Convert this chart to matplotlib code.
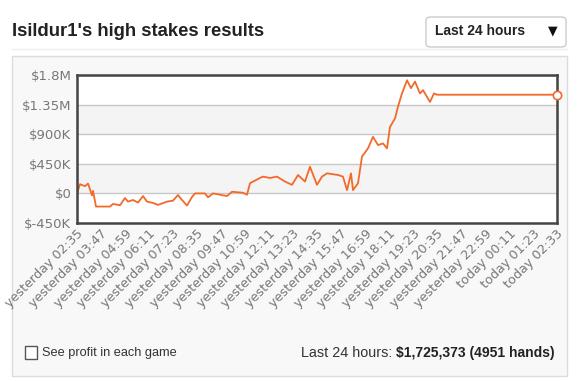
import matplotlib.pyplot as plt
from matplotlib.patches import Rectangle, FancyBboxPatch
from matplotlib.lines import Line2D

# profit curve (hours since yesterday 02:35, profit in $K)
hours = [0, 0.15, 0.4, 0.55, 0.75, 0.8, 0.95, 1.65, 1.8, 2.15, 2.4, 2.55, 2.8, 3.05, 3.3, 3.5, 3.8,
         4.05, 4.5, 4.8, 5.05, 5.25, 5.5, 5.75, 5.9, 6.4, 6.55, 6.8, 7.15, 7.5, 7.75, 8.3, 8.5, 8.65,
         9.15, 9.3, 9.65, 10.0, 10.4, 10.75, 11.05, 11.4, 11.65, 12.0, 12.25, 12.5, 13.05, 13.3,
         13.5, 13.7, 13.8, 14.05, 14.25, 14.55, 14.8, 15.05, 15.3, 15.5, 15.65, 15.9, 16.05, 16.25,
         16.5, 16.7, 16.9, 17.15, 17.3, 17.65, 17.85, 18.0, 24.0]
profit_k = [0, 140, 110, 150, -30, 40, -200, -200, -160, -180, -70, -125, -100, -140, -40, -125, -145,
            -175, -125, -110, -25, -100, -185, -55, 0, 0, -60, 0, -20, -40, 25, 10, -20, 155,
            235, 255, 235, 255, 180, 130, 280, 180, 405, 130, 255, 305, 280, 255,
            50, 305, 50, 155, 560, 685, 860, 735, 760, 685, 1010, 1140, 1320, 1520,
            1720, 1600, 1700, 1520, 1570, 1390, 1520, 1500, 1500]

y_ticks = [-450, 0, 450, 900, 1350, 1800]
y_labels = ['$-450K', '$0', '$450K', '$900K', '$1.35M', '$1.8M']

x_labels = ['yesterday 02:35', 'yesterday 03:47', 'yesterday 04:59', 'yesterday 06:11',
            'yesterday 07:23', 'yesterday 08:35', 'yesterday 09:47', 'yesterday 10:59',
            'yesterday 12:11', 'yesterday 13:23', 'yesterday 14:35', 'yesterday 15:47',
            'yesterday 16:59', 'yesterday 18:11', 'yesterday 19:23', 'yesterday 20:35',
            'yesterday 21:47', 'yesterday 22:59', 'today 00:11', 'today 01:23', 'today 02:33']
x_ticks = [i * 1.2 for i in range(len(x_labels) - 1)] + [23.97]

W, H = 580, 382
fig = plt.figure(figsize=(W / 100, H / 100), dpi=100)
fig.patch.set_facecolor('white')


def fx(px):
    return px / W


def fy(py):
    return 1 - py / H


sans = ['Liberation Sans', 'DejaVu Sans']

# outer panel
fig.patches.append(Rectangle((fx(12), fy(376)), fx(555), (376 - 56) / H, transform=fig.transFigure,
                             facecolor='#f8f8f8', edgecolor='#dcdcdc', linewidth=1, zorder=-2))
fig.lines.append(Line2D([fx(12), fx(567)], [fy(49), fy(49)], transform=fig.transFigure,
                        color='#eeeeee', linewidth=1, zorder=-2))

# header
fig.text(fx(12), fy(31), "Isildur1's high stakes results", family=sans, fontsize=13.3,
         fontweight='bold', color='#222222', va='center', ha='left')
fig.patches.append(FancyBboxPatch((fx(426), fy(47)), fx(140), 30 / H, transform=fig.transFigure,
                                  boxstyle='round,pad=0,rounding_size=0.008',
                                  facecolor='white', edgecolor='#cccccc', linewidth=1, zorder=-1))
fig.text(fx(435), fy(31), 'Last 24 hours', family=sans, fontsize=10, fontweight='bold',
         color='#222222', va='center', ha='left')
fig.text(fx(558), fy(31), '\u25bc', family=['DejaVu Sans'], fontsize=9,
         color='#111111', va='center', ha='right')

# chart
ax = fig.add_axes([fx(77), fy(223), fx(557 - 77), (223 - 75) / H])
ax.set_zorder(2)
ax.set_facecolor('white')
for lo, hi in [(0, 450), (900, 1350)]:
    ax.axhspan(lo, hi, color='#f4f4f4', zorder=0, linewidth=0)
for yv in y_ticks[1:-1]:
    ax.axhline(yv, color='#c8c8c8', linewidth=1, zorder=1)

ax.plot(hours, profit_k, color='#f26a2a', linewidth=1.3, zorder=3)
ax.plot(hours[-1], profit_k[-1], 'o', markersize=6, markerfacecolor='white',
        markeredgecolor='#f26a2a', markeredgewidth=1.2, clip_on=False, zorder=6)

ax.set_xlim(0, 24)
ax.set_ylim(-450, 1800)
ax.set_yticks(y_ticks)
ax.set_yticklabels(y_labels)
ax.set_xticks(x_ticks)
ax.set_xticklabels(x_labels, rotation=45, ha='right', va='top', rotation_mode='anchor')
ax.tick_params(length=0, labelsize=9.5, labelcolor='#777777', pad=4)
ax.tick_params(axis='x', labelsize=9.2, pad=3)
for sp in ax.spines.values():
    sp.set_color('#444444')
    sp.set_linewidth(1.8)
    sp.set_zorder(5)

# footer
fig.patches.append(Rectangle((fx(25), fy(359)), fx(12), 13 / H, transform=fig.transFigure,
                             facecolor='white', edgecolor='#555555', linewidth=1))
fig.text(fx(42), fy(353), 'See profit in each game', family=sans, fontsize=9.2,
         color='#333333', va='center', ha='left')
bold = fig.text(fx(555), fy(353), '$1,725,373 (4951 hands)', family=sans, fontsize=10,
                fontweight='bold', color='#222222', va='center', ha='right')
ax.annotate('Last 24 hours: ', xy=(0, 0.5), xycoords=bold, family=sans, fontsize=10.4,
            color='#333333', va='center', ha='right', annotation_clip=False)

fig.savefig('out.png', dpi=100)
